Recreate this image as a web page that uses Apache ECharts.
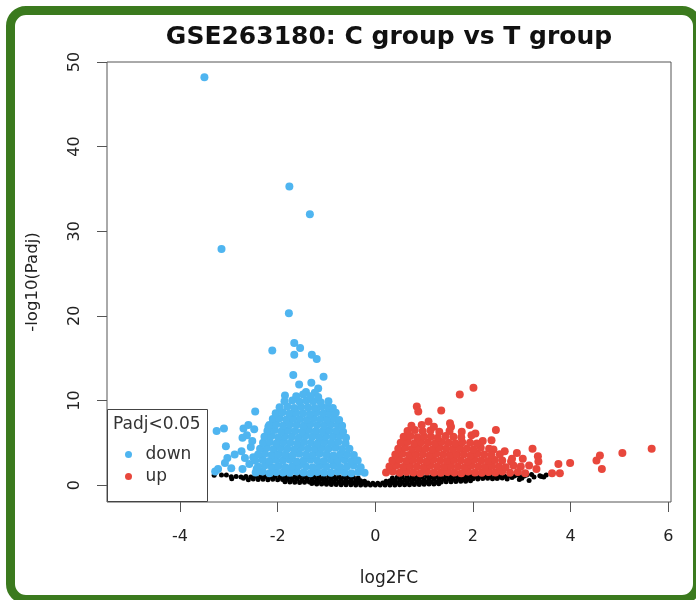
<!DOCTYPE html>
<html>
<head>
<meta charset="utf-8">
<title>GSE263180 volcano</title>
<script src="https://cdn.jsdelivr.net/npm/echarts@6/dist/echarts.min.js"></script>
<style>
  html, body { margin: 0; padding: 0; background: #fff; overflow: hidden; }
  #frame { position: absolute; left: 6px; top: 6px; width: 696px; height: 598px; box-sizing: border-box;
           border: 9px solid #3b7a1e; border-radius: 20px; background: #fff; }
  #chart { position: absolute; left: 0; top: 0; width: 696px; height: 600px; }
</style>
</head>
<body>
<div id="frame"></div>
<div id="chart"></div>
<script>
// tick labels
var xTicks = [-4, -2, 0, 2, 4, 6];
var yTicks = [0, 10, 20, 30, 40, 50];

// not significant (black), [log2FC, -log10(Padj)]
var nsPoints = [
  [-1.30,0.18],[-1.20,0.14],[-1.10,0.12],[-1.00,0.10],[-0.90,0.08],[-0.80,0.07],[-0.70,0.05],[-0.60,0.04],[-0.50,0.03],
  [-0.40,0.02],[-0.30,0.02],[-0.20,0.01],[-0.10,0.00],[0.00,0.00],[0.10,0.00],[0.20,0.01],[0.30,0.02],[0.40,0.02],
  [0.50,0.03],[0.60,0.04],[0.70,0.05],[0.80,0.07],[0.90,0.08],[1.00,0.10],[1.10,0.12],[1.20,0.14],[1.30,0.17],
  [-1.85,0.40],[-1.75,0.36],[-1.65,0.33],[-1.55,0.30],[-1.45,0.32],[-1.35,0.35],[-1.25,0.33],[-1.15,0.36],[-1.05,0.34],
  [-0.95,0.32],[-0.85,0.35],[-0.75,0.33],[-0.65,0.30],[-0.55,0.32],[-0.45,0.28],[-0.35,0.30],[-0.25,0.27],[-0.15,0.25],
  [-0.05,0.22],[0.05,0.22],[0.15,0.25],[0.25,0.27],[0.35,0.30],[0.45,0.28],[0.55,0.32],[0.65,0.30],[0.75,0.33],
  [0.85,0.35],[0.95,0.32],[1.05,0.34],[1.15,0.36],[1.25,0.33],[1.35,0.35],[1.45,0.38],[1.55,0.40],[1.65,0.42],
  [1.75,0.44],[1.85,0.46],[1.95,0.50],
  [-2.50,0.72],[-2.40,0.66],[-2.30,0.70],[-2.20,0.64],[-2.10,0.68],[-2.00,0.62],[-1.90,0.66],[-1.80,0.70],[-1.70,0.65],
  [-1.60,0.68],[-1.50,0.63],[-1.40,0.67],[-1.30,0.70],[-1.20,0.65],[-1.10,0.68],[-1.00,0.64],[-0.90,0.67],[-0.80,0.70],
  [-0.70,0.65],[-0.60,0.62],[-0.50,0.60],[-0.40,0.55],[-0.30,0.50],[-0.22,0.45],[0.22,0.45],[0.30,0.50],[0.40,0.55],
  [0.50,0.60],[0.60,0.63],[0.70,0.66],[0.80,0.70],[0.90,0.67],[1.00,0.64],[1.10,0.68],[1.20,0.71],[1.30,0.66],
  [1.40,0.69],[1.50,0.72],[1.60,0.68],[1.70,0.73],[1.80,0.70],[1.90,0.74],[2.00,0.76],[2.10,0.72],[2.20,0.78],
  [2.30,0.80],[2.40,0.76],[2.50,0.82],[2.60,0.85],
  [-2.95,0.98],[-2.85,1.02],[-2.75,0.95],[-2.65,1.00],[-2.55,0.96],[-2.45,1.03],[-2.35,0.98],[-2.25,1.01],[-2.15,0.96],
  [-2.05,1.00],[-1.95,0.97],[-1.85,1.02],[-1.75,0.99],[-1.65,0.95],[-1.55,1.01],[-1.45,0.98],[-1.35,1.03],[-1.25,0.97],
  [-1.15,1.00],[-1.05,0.96],[-0.95,1.02],[-0.85,0.98],[-0.75,1.01],[-0.65,0.95],[-0.55,0.98],[-0.45,0.92],[-0.35,0.85],
  [0.35,0.85],[0.45,0.92],[0.55,0.97],[0.65,1.00],[0.75,0.96],[0.85,1.02],[0.95,0.99],[1.05,1.03],[1.15,0.97],
  [1.25,1.01],[1.35,0.98],[1.45,1.04],[1.55,1.00],[1.65,1.03],[1.75,0.97],[1.85,1.02],[1.95,1.05],[2.05,0.99],
  [2.15,1.04],[2.25,1.01],[2.35,1.06],[2.45,1.02],[2.55,1.08],[2.65,1.04],[2.75,1.10],[2.85,1.06],[2.95,1.12],[3.05,1.08],
  [-3.30,1.15],[-3.15,1.20],[-3.05,1.18],[-2.94,0.75],[-2.70,0.80],[-2.60,0.62],
  [2.49,0.80],[2.70,0.72],[2.80,0.90],[2.90,1.22],[2.95,0.65],[3.00,0.82],[3.10,1.20],[3.15,0.55],[3.20,1.25],
  [3.25,0.95],[3.37,1.10],[3.40,1.00],[3.45,0.95],[3.50,1.20]
];

// significantly down (blue)
var downPoints = [
  [-3.50,48.2],[-1.76,35.3],[-1.34,32.0],[-3.15,27.9],[-1.77,20.3],[-2.11,15.9],[-1.66,16.8],[-1.54,16.2],
  [-1.66,15.4],[-1.30,15.4],[-1.20,14.9],[-1.06,12.8],[-1.68,13.0],[-1.56,11.9],[-1.31,12.1],[-1.17,11.4],
  [-1.42,11.0],[-1.85,10.6],[-1.24,10.9],
  [-3.28,1.6],[-3.22,1.9],[-3.10,6.7],[-3.25,6.4],[-3.06,4.6],[-3.03,3.2],[-3.08,2.6],[-2.95,2.0],[-2.88,3.6],
  [-2.70,6.7],[-2.63,5.9],[-2.72,5.6],[-2.74,4.0],[-2.67,3.2],[-2.72,1.9],[-2.58,2.5],[-2.55,4.5],[-2.52,5.2],
  [-2.60,7.1],[-2.46,8.7],[-2.48,6.6],[-2.43,1.9],[-2.50,3.3],[-2.19,6.9],
  [-2.45,1.5],[-2.31,1.6],[-2.17,1.4],[-2.03,1.55],[-1.89,1.5],[-1.75,1.45],[-1.61,1.6],[-1.47,1.5],[-1.33,1.4],
  [-1.19,1.55],[-1.05,1.5],[-0.91,1.45],[-0.77,1.6],[-0.63,1.5],[-0.49,1.4],[-0.35,1.55],[-0.22,1.45],
  [-2.40,2.2],[-2.26,2.3],[-2.12,2.15],[-1.98,2.25],[-1.84,2.1],[-1.70,2.2],[-1.56,2.3],[-1.42,2.2],[-1.28,2.1],
  [-1.14,2.25],[-1.00,2.2],[-0.86,2.3],[-0.72,2.15],[-0.58,2.2],[-0.44,2.3],[-0.30,2.1],
  [-2.46,2.9],[-2.31,3.0],[-2.17,2.85],[-2.03,2.95],[-1.89,2.9],[-1.75,3.0],[-1.61,2.8],[-1.47,2.9],[-1.33,3.0],
  [-1.19,2.9],[-1.05,2.85],[-0.91,3.0],[-0.77,2.9],[-0.63,2.95],[-0.49,2.85],[-0.36,2.9],
  [-2.40,3.6],[-2.26,3.7],[-2.12,3.55],[-1.98,3.65],[-1.84,3.6],[-1.70,3.5],[-1.56,3.7],[-1.42,3.6],[-1.28,3.55],
  [-1.14,3.7],[-1.00,3.6],[-0.86,3.5],[-0.72,3.65],[-0.58,3.6],[-0.44,3.55],
  [-2.36,4.3],[-2.22,4.4],[-2.08,4.25],[-1.94,4.35],[-1.80,4.3],[-1.66,4.2],[-1.52,4.4],[-1.38,4.3],[-1.24,4.25],
  [-1.10,4.35],[-0.96,4.3],[-0.82,4.4],[-0.68,4.25],[-0.53,4.3],
  [-2.30,5.0],[-2.16,5.1],[-2.02,4.95],[-1.88,5.05],[-1.74,5.0],[-1.60,4.9],[-1.46,5.1],[-1.32,5.0],[-1.18,4.95],
  [-1.04,5.05],[-0.90,5.0],[-0.76,5.1],[-0.61,4.95],
  [-2.27,5.7],[-2.13,5.8],[-1.99,5.65],[-1.85,5.75],[-1.71,5.7],[-1.57,5.6],[-1.43,5.8],[-1.29,5.7],[-1.15,5.65],
  [-1.01,5.75],[-0.87,5.7],[-0.73,5.8],[-0.60,5.6],
  [-2.21,6.4],[-2.06,6.5],[-1.92,6.35],[-1.78,6.45],[-1.64,6.4],[-1.50,6.3],[-1.36,6.5],[-1.22,6.4],[-1.08,6.35],
  [-0.94,6.45],[-0.80,6.4],[-0.66,6.3],
  [-2.17,7.1],[-2.03,7.2],[-1.89,7.05],[-1.75,7.15],[-1.61,7.1],[-1.47,7.0],[-1.33,7.2],[-1.19,7.1],[-1.05,7.05],
  [-0.91,7.15],[-0.77,7.1],[-0.68,7.0],
  [-2.10,7.8],[-1.96,7.9],[-1.82,7.75],[-1.68,7.85],[-1.54,7.8],[-1.40,7.7],[-1.26,7.9],[-1.12,7.8],[-0.98,7.75],
  [-0.84,7.85],[-0.74,7.7],
  [-2.04,8.5],[-1.90,8.6],[-1.76,8.45],[-1.62,8.55],[-1.48,8.5],[-1.34,8.4],[-1.20,8.6],[-1.06,8.5],[-0.93,8.45],[-0.81,8.55],
  [-1.96,9.2],[-1.80,9.3],[-1.66,9.1],[-1.52,9.25],[-1.38,9.2],[-1.24,9.1],[-1.10,9.3],[-0.97,9.2],[-0.87,9.1],
  [-1.86,9.9],[-1.70,10.0],[-1.55,9.85],[-1.41,10.0],[-1.27,9.9],[-1.12,9.8],[-0.96,9.9],
  [-1.62,10.5],[-1.48,10.7],[-1.33,10.5],[-1.17,10.4]
];

// significantly up (red)
var upPoints = [
  [2.01,11.5],[1.73,10.7],[0.85,9.3],[0.88,8.7],[1.35,8.8],[1.09,7.5],[1.53,7.3],[1.93,7.1],[1.77,6.3],[2.47,6.5],
  [1.97,5.9],[2.38,5.3],[2.42,4.2],[2.90,3.8],[2.80,3.1],[3.22,4.3],[3.02,3.1],[3.33,3.4],[3.34,2.8],[3.30,1.9],
  [3.07,1.4],[3.75,2.5],[3.99,2.6],[3.62,1.4],[3.78,1.4],[4.53,2.9],[4.60,3.5],[4.64,1.9],[5.06,3.8],[5.66,4.3],
  [3.15,2.3],[2.65,4.0],[2.05,6.1],[1.55,6.9],[2.20,5.2],
  [0.22,1.5],[0.36,1.6],[0.50,1.45],[0.64,1.55],[0.78,1.5],[0.92,1.4],[1.06,1.6],[1.20,1.5],[1.34,1.45],[1.48,1.55],
  [1.62,1.5],[1.76,1.4],[1.90,1.6],[2.04,1.5],[2.18,1.45],[2.32,1.55],[2.46,1.5],[2.60,1.6],[2.76,1.45],[2.92,1.55],
  [0.29,2.2],[0.43,2.3],[0.57,2.15],[0.71,2.25],[0.85,2.2],[0.99,2.1],[1.13,2.3],[1.27,2.2],[1.41,2.15],[1.55,2.25],
  [1.69,2.2],[1.83,2.1],[1.97,2.3],[2.11,2.2],[2.25,2.15],[2.39,2.25],[2.53,2.2],[2.67,2.1],[2.83,2.3],[2.98,2.2],
  [0.35,2.9],[0.49,3.0],[0.63,2.85],[0.77,2.95],[0.91,2.9],[1.05,2.8],[1.19,3.0],[1.33,2.9],[1.47,2.85],[1.61,2.95],
  [1.75,2.9],[1.89,2.8],[2.03,3.0],[2.17,2.9],[2.31,2.85],[2.45,2.95],[2.60,2.9],[2.78,2.8],
  [0.41,3.6],[0.55,3.7],[0.69,3.55],[0.83,3.65],[0.97,3.6],[1.11,3.5],[1.25,3.7],[1.39,3.6],[1.53,3.55],[1.67,3.65],
  [1.81,3.6],[1.95,3.5],[2.09,3.7],[2.23,3.6],[2.38,3.55],[2.55,3.65],
  [0.47,4.3],[0.61,4.4],[0.75,4.25],[0.89,4.35],[1.03,4.3],[1.17,4.2],[1.31,4.4],[1.45,4.3],[1.59,4.25],[1.73,4.35],
  [1.87,4.3],[2.01,4.2],[2.16,4.4],[2.33,4.3],
  [0.52,5.0],[0.66,5.1],[0.80,4.95],[0.94,5.05],[1.08,5.0],[1.22,4.9],[1.36,5.1],[1.50,5.0],[1.64,4.95],[1.78,5.05],
  [1.94,5.0],[2.08,4.9],
  [0.58,5.7],[0.72,5.8],[0.86,5.65],[1.00,5.75],[1.14,5.7],[1.28,5.6],[1.44,5.8],[1.60,5.7],[1.76,5.65],
  [0.66,6.4],[0.81,6.5],[0.97,6.35],[1.13,6.45],[1.31,6.3],[1.52,6.4],
  [0.74,7.0],[0.95,7.1],[1.20,6.9]
];

var FONT = 'DejaVu Sans, sans-serif';
var chart = echarts.init(document.getElementById('chart'), null, { renderer: 'canvas' });

chart.setOption({
  animation: false,
  title: {
    text: 'GSE263180: C group vs T group',
    left: 389, top: 25, textAlign: 'center', padding: 0,
    textStyle: { fontFamily: FONT, fontSize: 25, fontWeight: 'bold', color: '#111' }
  },
  grid: { left: 107, right: 25, top: 62, bottom: 98, show: true, borderColor: '#555', borderWidth: 1 },
  xAxis: {
    type: 'value', min: -5.495, max: 6.056,
    name: 'log2FC', nameLocation: 'middle', nameGap: 68,
    nameTextStyle: { fontFamily: FONT, fontSize: 17, color: '#222' },
    axisLine: { show: false, onZero: false },
    splitLine: { show: false },
    axisTick: { show: true, customValues: xTicks, length: 10, lineStyle: { color: '#555' } },
    axisLabel: { customValues: xTicks, margin: 27, fontFamily: FONT, fontSize: 16, color: '#222' }
  },
  yAxis: {
    type: 'value', min: -2, max: 50,
    name: '-log10(Padj)', nameLocation: 'middle', nameRotate: 90, nameGap: 66,
    nameTextStyle: { fontFamily: FONT, fontSize: 16.5, color: '#222' },
    axisLine: { show: false, onZero: false },
    splitLine: { show: false },
    axisTick: { show: true, customValues: yTicks, length: 10, lineStyle: { color: '#555' } },
    axisLabel: { customValues: yTicks, rotate: 90, margin: 24, fontFamily: FONT, fontSize: 16, color: '#222' }
  },
  legend: {
    data: ['down', 'up'],
    orient: 'vertical', left: 125, top: 446, padding: 0,
    icon: 'circle', itemWidth: 8, itemHeight: 7, itemGap: 5,
    textStyle: { fontFamily: FONT, fontSize: 17, color: '#333', padding: [0, 0, 0, 8] }
  },
  graphic: [
    { type: 'rect', z: 3, shape: { x: 107.5, y: 409.5, width: 100, height: 92 },
      style: { fill: '#fff', stroke: '#444', lineWidth: 1 } },
    { type: 'text', z: 3, x: 113, y: 425,
      style: { text: 'Padj<0.05', fontFamily: FONT, fontSize: 17, fill: '#333', verticalAlign: 'middle' } }
  ],
  series: [
    { name: 'ns', type: 'scatter', data: nsPoints, symbolSize: 5, itemStyle: { color: '#000', opacity: 1 } },
    { name: 'down', type: 'scatter', data: downPoints, symbolSize: 8, itemStyle: { color: '#4fb5f0', opacity: 1 } },
    { name: 'up', type: 'scatter', data: upPoints, symbolSize: 8, itemStyle: { color: '#e8473c', opacity: 1 } }
  ]
});
</script>
</body>
</html>
